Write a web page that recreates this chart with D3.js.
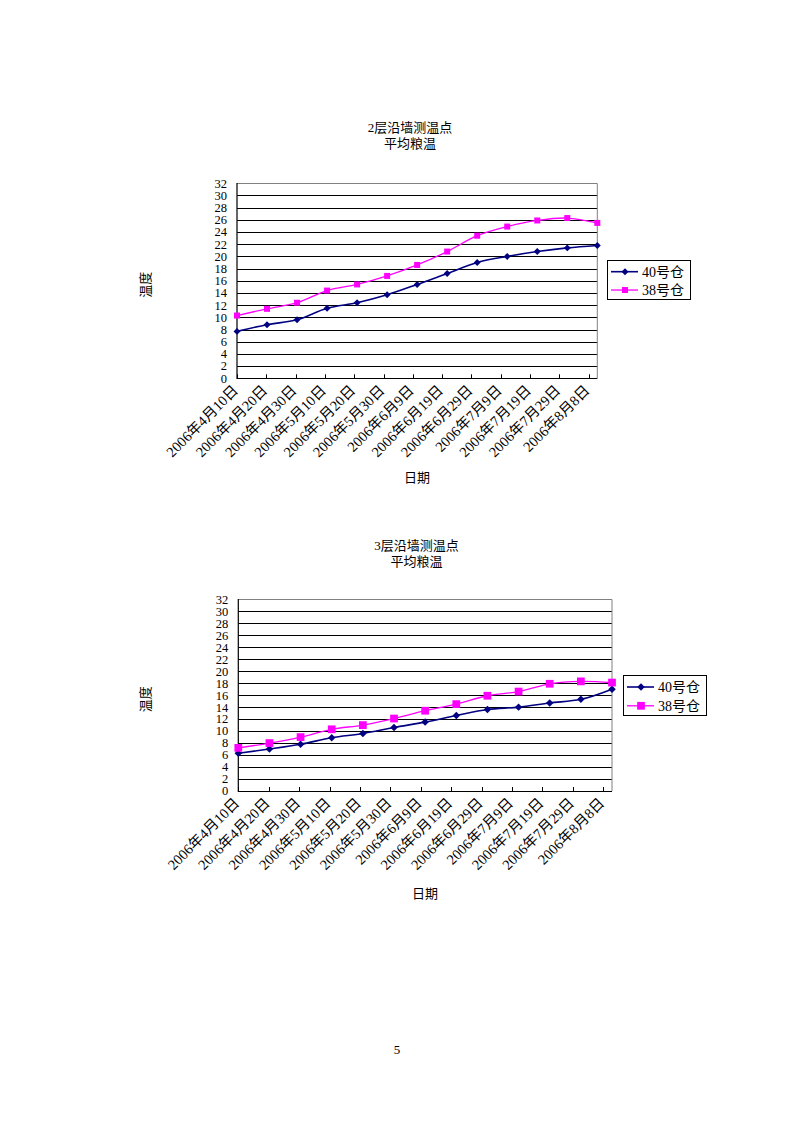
<!DOCTYPE html>
<html>
<head>
<meta charset="utf-8">
<script src="https://cdn.jsdelivr.net/npm/d3@7"></script>
<style>
  html, body { margin: 0; padding: 0; background: #fff; }
  svg { display: block; }
  .serif { font-family: "Liberation Serif", "Times New Roman", "Noto Sans CJK SC", serif; }
  .cjk { font-family: "Liberation Serif", "Noto Sans CJK SC", sans-serif; }
</style>
</head>
<body>
<svg id="page" width="794" height="1123"></svg>
<script>
// ---- data ----
const dates = ["2006年4月10日","2006年4月20日","2006年4月30日","2006年5月10日","2006年5月20日","2006年5月30日","2006年6月9日","2006年6月19日","2006年6月29日","2006年7月9日","2006年7月19日","2006年7月29日","2006年8月8日"];
const seriesNames = ["40号仓", "38号仓"];
const yTicks = [0,2,4,6,8,10,12,14,16,18,20,22,24,26,28,30,32];

const layer2_40 = [7.7, 8.8, 9.6, 11.5, 12.4, 13.7, 15.4, 17.2, 19.0, 20.0, 20.8, 21.4, 21.8];
const layer2_38 = [10.3, 11.4, 12.4, 14.4, 15.4, 16.8, 18.6, 20.8, 23.4, 24.9, 25.9, 26.3, 25.5];
const layer3_40 = [6.3, 7.0, 7.8, 8.9, 9.6, 10.6, 11.5, 12.6, 13.6, 14.0, 14.7, 15.3, 17.0];
const layer3_38 = [7.2, 8.0, 9.0, 10.3, 11.0, 12.1, 13.4, 14.5, 15.9, 16.6, 17.9, 18.3, 18.1];

const title1 = ["2层沿墙测温点", "平均粮温"];
const title2 = ["3层沿墙测温点", "平均粮温"];
const xTitle = "日期";
const yTitle = "温度";
const pageNumber = "5";

// ---- drawing ----
const svg = d3.select("#page");
const colors = ["#000080", "#FF00FF"];

function drawChart(cfg) {
  const g = svg.append("g");
  const {x0, x1, y0, y1} = cfg.plot;
  const x = d3.scalePoint().domain(dates).range([x0, x1]);
  const xt = d3.scalePoint().domain(dates).range([x0, x1 - 8.7]);
  const y = d3.scaleLinear().domain([0, 32]).range([y1, y0]);

  // gridlines
  g.selectAll("line.grid").data(yTicks.filter(v => v > 0 && v < 32)).join("line")
    .attr("x1", x0).attr("x2", x1)
    .attr("y1", v => Math.round(y(v)) + 0.5).attr("y2", v => Math.round(y(v)) + 0.5)
    .attr("stroke", "#000").attr("stroke-width", 1);
  // top & right border gray
  g.append("path")
    .attr("d", `M${x0},${Math.round(y(32))+0.5}H${x1}V${y1}`)
    .attr("fill", "none").attr("stroke", "#808080").attr("stroke-width", 1);
  // left & bottom axis
  g.append("path")
    .attr("d", `M${x0},${Math.round(y(32))}V${Math.round(y1)+0.5}H${x1}`)
    .attr("fill", "none").attr("stroke", "#000").attr("stroke-width", 1.2);
  // x ticks (inside)
  g.selectAll("line.xt").data(dates).join("line")
    .attr("x1", d => Math.round(xt(d)) + 0.5).attr("x2", d => Math.round(xt(d)) + 0.5)
    .attr("y1", y1).attr("y2", y1 - 4)
    .attr("stroke", "#000");

  // y tick labels
  g.selectAll("text.yl").data(yTicks).join("text")
    .attr("class", "serif")
    .attr("x", x0 - 10).attr("y", v => y(v))
    .attr("dy", "0.35em")
    .attr("text-anchor", "end")
    .attr("font-size", 12.5)
    .text(v => v);

  // x tick labels
  g.selectAll("text.xl").data(dates).join("text")
    .attr("class", "cjk")
    .attr("font-size", 14.5)
    .attr("text-anchor", "end")
    .attr("transform", d => `translate(${xt(d) + 2},${y1 + 13}) rotate(-45)`)
    .text(d => d);

  // series
  const curve = d3.line().x((d, i) => x(dates[i])).y(d => y(d)).curve(d3.curveCatmullRom.alpha(0.5));
  cfg.series.forEach((vals, si) => {
    g.append("path").attr("d", curve(vals))
      .attr("fill", "none").attr("stroke", colors[si])
      .attr("stroke-width", si === 0 ? 1.6 : 1.3);
  });
  // markers
  const diamond = d3.symbol(d3.symbolSquare, cfg.diamondSize);
  const square = d3.symbol(d3.symbolSquare, cfg.squareSize);
  g.selectAll("path.m40").data(cfg.series[0]).join("path")
    .attr("d", diamond)
    .attr("transform", (d, i) => `translate(${x(dates[i])},${y(d)}) rotate(45)`)
    .attr("fill", colors[0]);
  g.selectAll("path.m38").data(cfg.series[1]).join("path")
    .attr("d", square)
    .attr("transform", (d, i) => `translate(${x(dates[i])},${y(d)})`)
    .attr("fill", colors[1]);

  // titles
  cfg.title.forEach((t, i) => {
    g.append("text").attr("class", "cjk")
      .attr("x", cfg.titleX).attr("y", cfg.titleY + i * 16)
      .attr("text-anchor", "middle").attr("font-size", 13)
      .text(t);
  });
  // axis titles
  g.append("text").attr("class", "cjk")
    .attr("x", cfg.xTitleX).attr("y", cfg.xTitleY)
    .attr("text-anchor", "middle").attr("font-size", 13)
    .text(xTitle);
  g.append("text").attr("class", "cjk")
    .attr("transform", `translate(${cfg.yTitleX},${(y0 + y1) / 2 + 4}) rotate(-90)`)
    .attr("text-anchor", "middle").attr("font-size", 13)
    .text(yTitle);

  // legend
  const L = cfg.legend;
  g.append("rect").attr("x", L.x + 0.5).attr("y", L.y + 0.5)
    .attr("width", L.w).attr("height", L.h)
    .attr("fill", "#fff").attr("stroke", "#000").attr("stroke-width", 1);
  seriesNames.forEach((name, si) => {
    const cy = L.y + L.h * (si === 0 ? 0.3 : 0.77);
    g.append("line").attr("x1", L.x + 4).attr("x2", L.x + 31)
      .attr("y1", cy).attr("y2", cy)
      .attr("stroke", colors[si]).attr("stroke-width", si === 0 ? 1.6 : 1.3);
    g.append("path")
      .attr("d", si === 0 ? diamond() : square())
      .attr("transform", `translate(${L.x + 18},${cy})` + (si === 0 ? " rotate(45)" : ""))
      .attr("fill", colors[si]);
    g.append("text").attr("class", "cjk")
      .attr("x", L.x + 35).attr("y", cy).attr("dy", "0.36em")
      .attr("font-size", 14)
      .text(name);
  });
}

drawChart({
  plot: {x0: 237, x1: 597.3, y0: 183.3, y1: 378.3},
  series: [layer2_40, layer2_38],
  title: title1, titleX: 410, titleY: 132,
  xTitleX: 417, xTitleY: 482,
  yTitleX: 150,
  diamondSize: 24, squareSize: 36,
  legend: {x: 607, y: 260, w: 83, h: 39}
});

drawChart({
  plot: {x0: 238.3, x1: 612, y0: 599.3, y1: 791},
  series: [layer3_40, layer3_38],
  title: title2, titleX: 416.5, titleY: 550,
  xTitleX: 425, xTitleY: 898,
  yTitleX: 150,
  diamondSize: 28, squareSize: 60,
  legend: {x: 623, y: 675, w: 83, h: 40}
});

svg.append("text").attr("class", "serif")
  .attr("x", 397).attr("y", 1054)
  .attr("text-anchor", "middle").attr("font-size", 13)
  .text(pageNumber);
</script>
</body>
</html>
